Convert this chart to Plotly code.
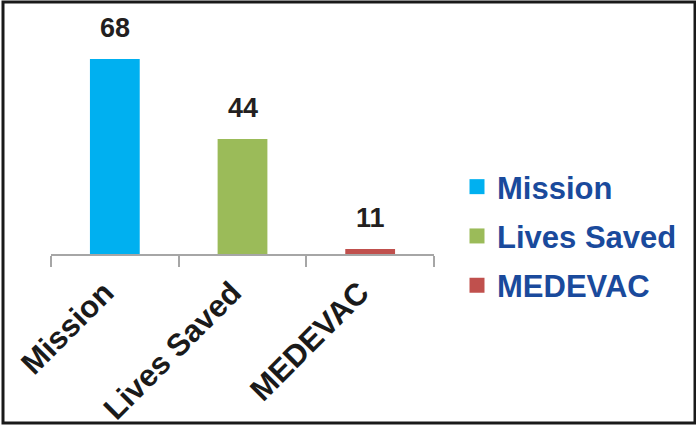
import plotly.graph_objects as go

categories = ["Mission", "Lives Saved", "MEDEVAC"]
values = [68, 44, 11]
colors = ["#00B0F0", "#9BBB59", "#C0504D"]

W, H = 696, 425
L, R, T, B = 51, 434, 10, 254  # plot area pixel bounds

def px(x):
    return (x - L) / (R - L)

def py(y):
    return (B - y) / (B - T)

fig = go.Figure()
for c, v, col in zip(categories, values, colors):
    fig.add_trace(go.Bar(x=[c], y=[v], marker=dict(color=col, line=dict(width=0)),
                         width=0.39, showlegend=False, name=c))
for c, col in zip(categories, colors):
    fig.add_trace(go.Scatter(x=[None], y=[None], mode="markers", name=c, legendgroup=c,
                             marker=dict(symbol="square", size=15, color=col)))
# carrier trace so the label axis is rendered
fig.add_trace(go.Scatter(x=list(range(len(categories))), y=[None] * len(categories), xaxis="x2",
                         mode="markers", showlegend=False, hoverinfo="skip",
                         marker=dict(opacity=0)))

for c, v in zip(categories, values):
    fig.add_annotation(x=c, y=v, text=str(v), showarrow=False, yanchor="bottom", yshift=14,
                       font=dict(family="Liberation Sans, Arial", size=27, color="#231F20", weight="bold"))

fig.add_shape(type="rect", xref="paper", yref="paper",
              x0=px(3), x1=px(695), y0=py(423), y1=py(2),
              line=dict(color="#1a1a1a", width=3))

label_shift = 0.08
fig.update_layout(
    width=W, height=H,
    margin=dict(l=L, r=W - R, t=T, b=H - B, autoexpand=False),
    paper_bgcolor="white", plot_bgcolor="white",
    barmode="overlay",
    showlegend=True,
    legend=dict(x=px(457), y=py(160), xanchor="left", yanchor="top",
                font=dict(family="Liberation Sans, Arial", size=31, color="#1A4A9C", weight="bold"),
                tracegroupgap=6, bgcolor="rgba(0,0,0,0)"),
    xaxis=dict(showline=True, linecolor="#A6A6A6", linewidth=2, ticks="outside", tickson="boundaries",
               ticklen=11, tickwidth=2, tickcolor="#A6A6A6", showticklabels=False,
               automargin=False, showgrid=False, fixedrange=True),
    xaxis2=dict(overlaying="x", anchor="y", side="bottom", type="linear",
                range=[-0.5 + label_shift, 2.5 + label_shift],
                tickmode="array", tickvals=list(range(len(categories))), ticktext=categories,
                ticks="outside", ticklen=1, tickcolor="rgba(0,0,0,0)", showline=False,
                showgrid=False, zeroline=False, automargin=False,
                tickangle=-45, ticklabelstandoff=6,
                tickfont=dict(family="Liberation Sans, Arial", size=31, color="#1a1a1a", weight="bold")),
    yaxis=dict(range=[9.5, 82.7], visible=False, showgrid=False, zeroline=False, automargin=False),
)

fig.write_html("out.html")
